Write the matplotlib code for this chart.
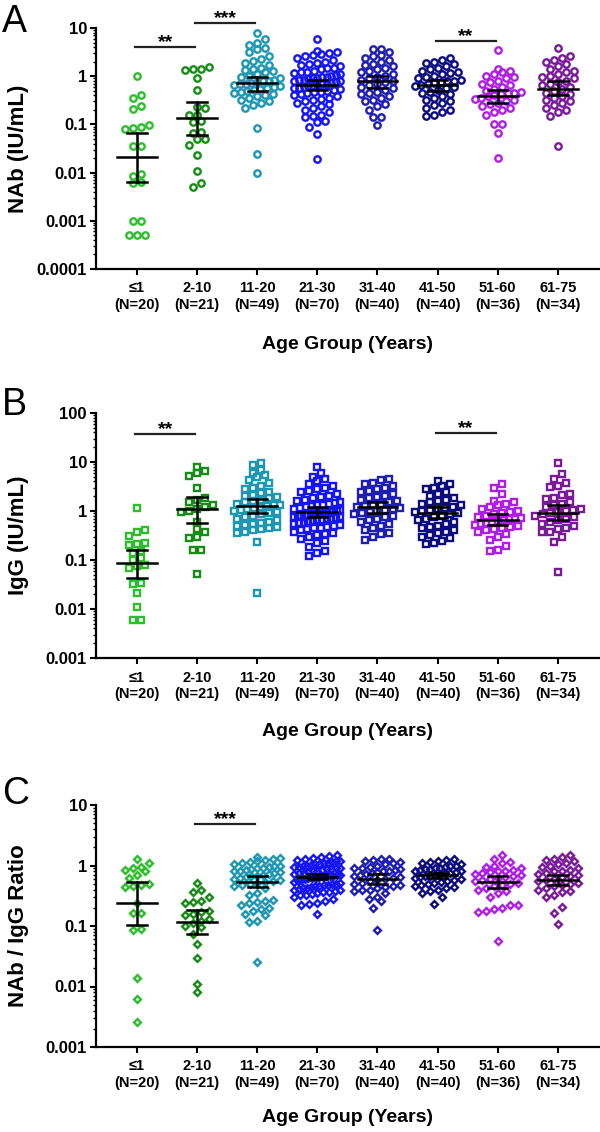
import numpy as np
import matplotlib
matplotlib.use("Agg")
import matplotlib.pyplot as plt
from matplotlib.ticker import LogLocator, NullFormatter, FuncFormatter

plt.rcParams['font.family'] = ['Liberation Sans', 'DejaVu Sans']
plt.rcParams['font.weight'] = 'bold'

groups = ['≤1', '2-10', '11-20', '21-30', '31-40', '41-50', '51-60', '61-75']
counts = [20, 21, 49, 70, 40, 40, 36, 34]
colors = ['#2DBE2D', '#178C17', '#1C98B4', '#1414F5', '#1E1EB4', '#0C0C80', '#B01EE6', '#7A1A9A']

# --- panel A: NAb (IU/mL) ---
nab = [
    [1.0, 0.40, 0.35, 0.24, 0.21, 0.095, 0.09, 0.085, 0.08, 0.035, 0.035, 0.0095, 0.0085,
     0.0065, 0.006, 0.001, 0.001, 0.0005, 0.0005, 0.0005],
    [1.56, 1.42, 1.4, 1.35, 0.92, 0.51, 0.23, 0.22, 0.16, 0.16, 0.115, 0.11, 0.07, 0.065,
     0.05, 0.05, 0.038, 0.023, 0.011, 0.006, 0.0051],
    [7.8, 5.8, 5.0, 4.5, 3.9, 3.6, 3.2, 2.6, 2.3, 2.1, 1.9, 1.7, 1.5, 1.4, 1.35, 1.3, 1.2,
     1.1, 1.0, 0.95, 0.9, 0.85, 0.8, 0.78, 0.75, 0.72, 0.7, 0.68, 0.65, 0.62, 0.6, 0.58,
     0.55, 0.52, 0.5, 0.48, 0.45, 0.42, 0.4, 0.38, 0.35, 0.32, 0.3, 0.28, 0.25, 0.22,
     0.085, 0.024, 0.01],
    [5.8, 3.4, 3.2, 3.0, 2.9, 2.8, 2.6, 2.4, 2.2, 2.0, 1.9, 1.8, 1.7, 1.6, 1.5, 1.45, 1.4,
     1.3, 1.25, 1.2, 1.15, 1.1, 1.05, 1.0, 0.98, 0.95, 0.92, 0.9, 0.87, 0.85, 0.82, 0.8,
     0.78, 0.75, 0.72, 0.7, 0.68, 0.66, 0.64, 0.62, 0.6, 0.58, 0.56, 0.54, 0.52, 0.5, 0.48,
     0.46, 0.44, 0.42, 0.4, 0.38, 0.36, 0.34, 0.32, 0.3, 0.28, 0.26, 0.24, 0.22, 0.2, 0.18,
     0.16, 0.15, 0.14, 0.12, 0.11, 0.09, 0.064, 0.019],
    [3.7, 3.6, 3.2, 2.8, 2.6, 2.4, 2.2, 2.0, 1.8, 1.7, 1.6, 1.5, 1.4, 1.3, 1.2, 1.1, 1.0,
     0.95, 0.9, 0.85, 0.8, 0.75, 0.7, 0.65, 0.6, 0.56, 0.52, 0.48, 0.45, 0.42, 0.38, 0.35,
     0.32, 0.3, 0.27, 0.24, 0.2, 0.14, 0.14, 0.095],
    [2.4, 2.2, 2.0, 1.9, 1.8, 1.6, 1.5, 1.4, 1.3, 1.2, 1.15, 1.1, 1.0, 0.95, 0.9, 0.85, 0.8,
     0.78, 0.75, 0.72, 0.7, 0.67, 0.64, 0.6, 0.56, 0.52, 0.48, 0.45, 0.42, 0.38, 0.35, 0.32,
     0.3, 0.28, 0.25, 0.22, 0.2, 0.18, 0.16, 0.15],
    [3.5, 1.4, 1.3, 1.2, 1.1, 1.0, 0.95, 0.9, 0.8, 0.75, 0.7, 0.65, 0.6, 0.55, 0.5, 0.47,
     0.45, 0.44, 0.42, 0.4, 0.38, 0.36, 0.34, 0.32, 0.3, 0.28, 0.26, 0.24, 0.22, 0.2, 0.18,
     0.16, 0.104, 0.1, 0.067, 0.02],
    [3.8, 2.6, 2.4, 2.2, 2.0, 1.8, 1.6, 1.4, 1.3, 1.2, 1.1, 1.0, 0.95, 0.9, 0.8, 0.75, 0.7,
     0.65, 0.6, 0.55, 0.5, 0.45, 0.42, 0.38, 0.35, 0.32, 0.3, 0.28, 0.25, 0.22, 0.2, 0.18,
     0.15, 0.036],
]
nab_mid = [0.021, 0.135, 0.72, 0.67, 0.79, 0.65, 0.38, 0.55]
nab_lo = [0.0063, 0.059, 0.5, 0.51, 0.57, 0.5, 0.28, 0.4]
nab_hi = [0.065, 0.29, 0.98, 0.85, 1.0, 0.85, 0.52, 0.78]
nab_sig = [(0, 1, 4.0, '**'), (1, 2, 12.8, '***'), (5, 6, 5.4, '**')]

# --- panel B: IgG (IU/mL) ---
igg = [
    [1.13, 0.41, 0.37, 0.31, 0.22, 0.21, 0.2, 0.15, 0.14, 0.11, 0.1, 0.08, 0.075, 0.07,
     0.034, 0.032, 0.021, 0.011, 0.006, 0.006],
    [8.0, 6.5, 6.0, 5.2, 3.0, 1.8, 1.7, 1.5, 1.3, 1.2, 1.1, 1.0, 0.95, 0.6, 0.42, 0.38, 0.3,
     0.28, 0.16, 0.16, 0.051],
    [9.7, 8.5, 7.0, 6.0, 5.5, 5.0, 4.2, 3.8, 3.2, 3.0, 2.8, 2.5, 2.3, 2.1, 2.0, 1.9, 1.8,
     1.7, 1.6, 1.5, 1.4, 1.35, 1.3, 1.25, 1.2, 1.15, 1.1, 1.05, 1.0, 0.95, 0.9, 0.85, 0.8,
     0.75, 0.7, 0.65, 0.6, 0.58, 0.55, 0.52, 0.5, 0.48, 0.45, 0.42, 0.4, 0.38, 0.35, 0.23,
     0.021],
    [8.0, 6.0, 5.0, 4.5, 4.0, 3.5, 3.2, 3.0, 2.8, 2.6, 2.4, 2.2, 2.0, 1.9, 1.8, 1.7, 1.6,
     1.5, 1.45, 1.4, 1.35, 1.3, 1.25, 1.2, 1.15, 1.1, 1.05, 1.0, 0.98, 0.96, 0.94, 0.92,
     0.9, 0.88, 0.86, 0.84, 0.82, 0.8, 0.78, 0.76, 0.74, 0.72, 0.7, 0.68, 0.66, 0.64, 0.62,
     0.6, 0.58, 0.56, 0.54, 0.52, 0.5, 0.48, 0.46, 0.44, 0.42, 0.4, 0.38, 0.36, 0.34, 0.32,
     0.3, 0.27, 0.25, 0.22, 0.18, 0.15, 0.14, 0.12],
    [4.6, 4.2, 3.8, 3.5, 3.2, 3.0, 2.8, 2.6, 2.4, 2.2, 2.0, 1.9, 1.8, 1.7, 1.6, 1.5, 1.4,
     1.3, 1.25, 1.2, 1.15, 1.1, 1.05, 1.0, 0.95, 0.9, 0.85, 0.8, 0.75, 0.7, 0.65, 0.6,
     0.55, 0.5, 0.45, 0.4, 0.36, 0.34, 0.3, 0.26],
    [4.0, 3.6, 3.3, 3.0, 2.8, 2.5, 2.2, 2.0, 1.8, 1.7, 1.6, 1.5, 1.4, 1.3, 1.2, 1.15, 1.1,
     1.05, 1.0, 0.95, 0.9, 0.85, 0.8, 0.75, 0.7, 0.65, 0.6, 0.55, 0.5, 0.47, 0.44, 0.4,
     0.37, 0.35, 0.33, 0.3, 0.28, 0.25, 0.22, 0.21],
    [3.5, 3.0, 2.2, 1.6, 1.5, 1.4, 1.3, 1.2, 1.1, 1.0, 0.95, 0.9, 0.85, 0.8, 0.75, 0.72,
     0.7, 0.68, 0.65, 0.62, 0.6, 0.58, 0.55, 0.52, 0.5, 0.47, 0.44, 0.42, 0.4, 0.37, 0.34,
     0.3, 0.26, 0.19, 0.16, 0.15],
    [9.4, 5.7, 4.5, 3.8, 3.2, 3.1, 2.2, 2.1, 1.8, 1.75, 1.5, 1.4, 1.3, 1.2, 1.1, 1.05, 1.0,
     0.95, 0.9, 0.85, 0.8, 0.75, 0.7, 0.65, 0.6, 0.55, 0.5, 0.45, 0.42, 0.38, 0.37, 0.3,
     0.23, 0.057],
]
igg_mid = [0.085, 1.1, 1.25, 0.97, 1.19, 0.92, 0.65, 0.92]
igg_lo = [0.043, 0.56, 0.9, 0.77, 0.92, 0.71, 0.51, 0.64]
igg_hi = [0.16, 1.9, 1.75, 1.23, 1.55, 1.19, 0.87, 1.32]
igg_sig = [(0, 1, 37, '**'), (5, 6, 39, '**')]

# --- panel C: NAb / IgG ratio ---
ratio = [
    [1.3, 1.1, 0.95, 0.9, 0.85, 0.8, 0.7, 0.62, 0.5, 0.48, 0.46, 0.44, 0.24, 0.165, 0.165,
     0.09, 0.085, 0.014, 0.0063, 0.0026],
    [0.52, 0.4, 0.37, 0.3, 0.26, 0.25, 0.24, 0.18, 0.17, 0.16, 0.15, 0.13, 0.12, 0.11, 0.1,
     0.095, 0.074, 0.05, 0.03, 0.011, 0.008],
    [1.4, 1.35, 1.3, 1.25, 1.2, 1.15, 1.1, 1.05, 1.0, 0.98, 0.95, 0.92, 0.9, 0.88, 0.85,
     0.82, 0.8, 0.78, 0.75, 0.72, 0.7, 0.68, 0.66, 0.64, 0.62, 0.6, 0.58, 0.56, 0.54, 0.52,
     0.5, 0.48, 0.45, 0.42, 0.35, 0.33, 0.27, 0.26, 0.25, 0.24, 0.22, 0.2, 0.19, 0.18,
     0.155, 0.15, 0.12, 0.115, 0.025],
    [1.5, 1.45, 1.4, 1.35, 1.3, 1.25, 1.2, 1.18, 1.15, 1.12, 1.1, 1.07, 1.05, 1.02, 1.0,
     0.98, 0.96, 0.94, 0.92, 0.9, 0.88, 0.86, 0.84, 0.82, 0.8, 0.78, 0.76, 0.74, 0.72, 0.7,
     0.69, 0.68, 0.67, 0.66, 0.65, 0.64, 0.63, 0.62, 0.61, 0.6, 0.58, 0.56, 0.54, 0.52, 0.5,
     0.49, 0.48, 0.47, 0.46, 0.45, 0.44, 0.43, 0.42, 0.41, 0.4, 0.39, 0.38, 0.37, 0.36,
     0.35, 0.34, 0.33, 0.32, 0.3, 0.28, 0.26, 0.24, 0.23, 0.22, 0.16],
    [1.3, 1.28, 1.25, 1.2, 1.15, 1.1, 1.05, 1.0, 0.95, 0.92, 0.9, 0.87, 0.85, 0.82, 0.8,
     0.77, 0.75, 0.72, 0.7, 0.68, 0.65, 0.62, 0.6, 0.58, 0.55, 0.52, 0.5, 0.48, 0.46, 0.44,
     0.42, 0.4, 0.4, 0.38, 0.35, 0.3, 0.28, 0.26, 0.2, 0.086],
    [1.3, 1.25, 1.2, 1.15, 1.1, 1.05, 1.0, 0.97, 0.94, 0.92, 0.9, 0.88, 0.86, 0.84, 0.82,
     0.8, 0.78, 0.76, 0.74, 0.72, 0.7, 0.68, 0.66, 0.64, 0.62, 0.6, 0.58, 0.56, 0.54, 0.52,
     0.5, 0.48, 0.46, 0.44, 0.42, 0.4, 0.38, 0.35, 0.3, 0.23],
    [1.5, 1.3, 1.15, 1.1, 1.0, 0.95, 0.9, 0.85, 0.82, 0.8, 0.78, 0.75, 0.72, 0.7, 0.67,
     0.64, 0.62, 0.6, 0.57, 0.55, 0.52, 0.5, 0.48, 0.45, 0.42, 0.4, 0.38, 0.35, 0.3, 0.22,
     0.22, 0.2, 0.19, 0.18, 0.17, 0.056],
    [1.5, 1.4, 1.3, 1.25, 1.2, 1.1, 1.05, 1.0, 0.95, 0.9, 0.85, 0.82, 0.8, 0.76, 0.72, 0.7,
     0.67, 0.64, 0.6, 0.57, 0.55, 0.52, 0.5, 0.48, 0.45, 0.42, 0.4, 0.38, 0.36, 0.33, 0.3,
     0.21, 0.165, 0.107],
]
ratio_mid = [0.24, 0.115, 0.54, 0.65, 0.59, 0.69, 0.54, 0.57]
ratio_lo = [0.104, 0.073, 0.44, 0.59, 0.5, 0.63, 0.43, 0.47]
ratio_hi = [0.53, 0.185, 0.66, 0.72, 0.72, 0.75, 0.66, 0.69]
ratio_sig = [(1, 2, 4.85, '***')]

W, H = 600, 1132
fig = plt.figure(figsize=(W / 100, H / 100), dpi=100)


def swarm_x(ax, vals, dx_px=8.0, row_px=7.0, max_w=46.0):
    # lay points out in rows (Prism style column scatter), offsets in data units
    vals = np.asarray(vals, float)
    ypix = ax.transData.transform(np.column_stack([np.zeros(len(vals)), vals]))[:, 1]
    ppu = ax.transData.transform((1, 1))[0] - ax.transData.transform((0, 1))[0]
    order = np.argsort(ypix)
    offs = np.zeros(len(vals))
    i = 0
    while i < len(order):
        j = i
        y0 = ypix[order[i]]
        while j < len(order) and ypix[order[j]] - y0 < row_px:
            j += 1
        idx = order[i:j]
        n = len(idx)
        step = dx_px if n < 2 else min(dx_px, max_w / (n - 1))
        offs[idx] = (np.arange(n) - (n - 1) / 2) * step
        i = j
    return offs / ppu


def panel(top_px, bot_px, ylim, data, mid, lo, hi, sig, marker, ms, ylabel, letter,
          letter_base, xlabel_y):
    ax = fig.add_axes([96 / W, 1 - bot_px / H, 504 / W, (bot_px - top_px) / H])
    ax.set_yscale('log')
    ax.set_ylim(*ylim)
    ax.set_xlim(-0.68, 7.70)

    for i, vals in enumerate(data):
        x = i + swarm_x(ax, vals)
        ax.plot(x, vals, ls='none', marker=marker, ms=ms, mfc='none', mec=colors[i],
                mew=1.7, clip_on=False, zorder=2)
        ax.plot([i - 0.33, i + 0.33], [mid[i], mid[i]], color='black', lw=1.8, zorder=3)
        ax.plot([i, i], [lo[i], hi[i]], color='black', lw=1.8, zorder=3)
        for v in (lo[i], hi[i]):
            ax.plot([i - 0.16, i + 0.16], [v, v], color='black', lw=1.8, zorder=3)

    for a, b, yv, txt in sig:
        ax.plot([a - 0.03, b - 0.03], [yv, yv], color='#222222', lw=1.6, clip_on=False)
        ax.text((a + b) / 2 - 0.03, yv, txt, ha='center', va='baseline', fontsize=14,
                fontweight='bold')

    for s in ('top', 'right'):
        ax.spines[s].set_visible(False)
    for s in ('left', 'bottom'):
        ax.spines[s].set_linewidth(1.6)

    ax.yaxis.set_major_locator(LogLocator(base=10, numticks=20))
    ax.yaxis.set_minor_locator(LogLocator(base=10, subs=np.arange(2, 10), numticks=20))
    ax.yaxis.set_minor_formatter(NullFormatter())
    ax.yaxis.set_major_formatter(FuncFormatter(lambda v, p: '%g' % v))
    ax.tick_params(axis='y', which='major', length=4.5, width=1.5, labelsize=12, pad=2)
    ax.tick_params(axis='y', which='minor', length=2.5, width=1.0)
    ax.set_xticks(range(len(groups)))
    ax.set_xticklabels([f'{g}\n(N={n})' for g, n in zip(groups, counts)])
    ax.tick_params(axis='x', length=4, width=1.5, labelsize=10.5, pad=5)

    mid_y = 1 - (top_px + bot_px) / 2 / H
    fig.text(19 / W, mid_y, ylabel, rotation=90, ha='center', va='center', fontsize=16,
             fontweight='bold')
    fig.text(348 / W, 1 - xlabel_y / H, 'Age Group (Years)', ha='center', va='center',
             fontsize=14, fontweight='bold')
    fig.text(2 / W, 1 - letter_base / H, letter, ha='left', va='baseline', fontsize=27,
             fontweight='normal')
    return ax


panel(28, 269, (1e-4, 10), nab, nab_mid, nab_lo, nab_hi, nab_sig, 'o', 4.6,
      'NAb (IU/mL)', 'A', 32, 345)
panel(413, 658, (1e-3, 100), igg, igg_mid, igg_lo, igg_hi, igg_sig, 's', 4.4,
      'IgG (IU/mL)', 'B', 415, 731)
panel(805, 1047, (1e-3, 10), ratio, ratio_mid, ratio_lo, ratio_hi, ratio_sig, 'D', 3.5,
      'NAb / IgG Ratio', 'C', 804, 1118)

fig.savefig('out.png', dpi=100)
